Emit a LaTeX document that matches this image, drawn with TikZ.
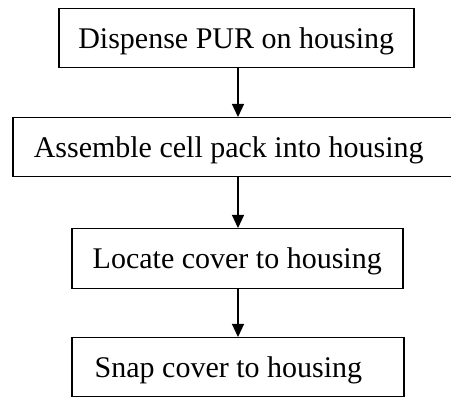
\documentclass[tikz,border=0pt]{standalone}
\usepackage{fontspec}
\setmainfont{Liberation Serif}
\usetikzlibrary{arrows.meta}
% text set flush left inside a fixed-width box: #1 width, #2 left gap, #3 text
\newcommand{\leftset}[3]{\makebox[#1][l]{\hspace*{#2}#3}}
\begin{document}
\begin{tikzpicture}[x=1pt, y=-1pt,
  stepbox/.style={draw=black, line width=1.5pt, rectangle, inner sep=0pt,
    font=\fontsize{30}{36}\selectfont, text height=20pt, text depth=0pt,
    anchor=north west},
  flow/.style={draw=black, line width=1.2pt, -{Triangle[length=13pt,width=12pt]}}]
  \clip (0,0) rectangle (451,398);
  % process steps, top to bottom
  \node[stepbox, minimum width=355pt, minimum height=59pt] (b1) at (58,8)
    {Dispense PUR on housing};
  \node[stepbox, minimum height=59pt] (b2) at (12,117)
    {\leftset{441pt}{21pt}{Assemble cell pack into housing}};
  \node[stepbox, minimum width=331pt, minimum height=60pt] (b3) at (71,228)
    {Locate cover to housing};
  \node[stepbox, minimum height=59pt] (b4) at (71,337)
    {\leftset{332pt}{23pt}{Snap cover to housing}};
  % vertical axis shared by the arrows
  \coordinate (ax) at (238,0);
  \draw[flow] (b1.south -| ax) -- (b2.north -| ax);
  \draw[flow] (b2.south -| ax) -- (b3.north -| ax);
  \draw[flow] (b3.south -| ax) -- (b4.north -| ax);
\end{tikzpicture}
\end{document}
